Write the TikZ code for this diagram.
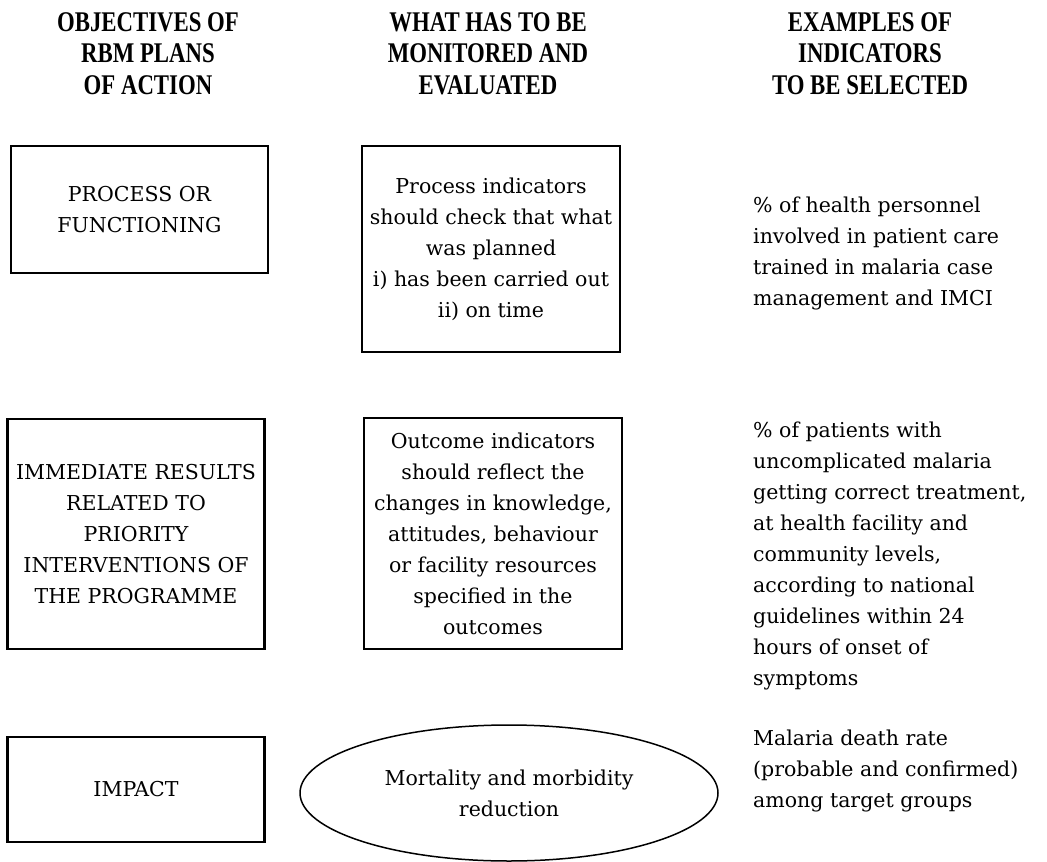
\documentclass[tikz,border=0pt]{standalone}
\usepackage{fontspec}
\setmainfont{DejaVu Serif}
\newfontfamily\headfont[FakeStretch=0.80]{Liberation Serif}
\usetikzlibrary{shapes.geometric}

% text sizes used throughout
\newcommand\bodysize{\fontsize{20.5}{31}\selectfont}
\newcommand\headsize{\headfont\bfseries\fontsize{28.5}{31.5}\selectfont}

\begin{document}
\begin{tikzpicture}[x=1pt,y=-1pt,
  header/.style={anchor=base, align=center, inner sep=0pt, font=\headsize},
  objbox/.style={draw, line width=2.2pt, rectangle, align=center,
    inner sep=0pt, font=\bodysize},
  oval/.style={draw, line width=1.5pt, ellipse, align=center,
    inner sep=0pt, font=\bodysize},
  indicator/.style={anchor=base west, align=left, inner sep=0pt, font=\bodysize}
]
\useasboundingbox (0,0) rectangle (1047,862);

% column headings (placed by the baseline of their last line)
\node[header] (h1) at (148,94) {OBJECTIVES OF\\RBM PLANS\\OF ACTION};
\node[header] (h2) at (488,94) {WHAT HAS TO BE\\MONITORED AND\\EVALUATED};
\node[header] (h3) at (870,94) {EXAMPLES OF\\INDICATORS\\TO BE SELECTED};

% row 1: process
\node[objbox, minimum width=257pt, minimum height=127pt] (obj1) at (139.5,209.5)
  {PROCESS OR\\FUNCTIONING};
\node[objbox, minimum width=258pt, minimum height=206pt] (mon1) at (491,249)
  {Process indicators\\should check that what\\was planned\\i) has been carried out\\ii) on time};
\node[indicator] (ind1) at (753,305)
  {\% of health personnel\\involved in patient care\\trained in malaria case\\management and IMCI};

% row 2: immediate results
\node[objbox, minimum width=257pt, minimum height=230pt] (obj2) at (136,534)
  {IMMEDIATE RESULTS\\RELATED TO\\PRIORITY\\INTERVENTIONS OF\\THE PROGRAMME};
\node[objbox, minimum width=258pt, minimum height=231pt] (mon2) at (493,533.5)
  {Outcome indicators\\should reflect the\\changes in knowledge,\\attitudes, behaviour\\or facility resources\\specified in the\\outcomes};
\node[indicator] (ind2) at (753,685)
  {\% of patients with\\uncomplicated malaria\\getting correct treatment,\\at health facility and\\community levels,\\according to national\\guidelines within 24\\hours of onset of\\symptoms};

% row 3: impact
\node[objbox, minimum width=257pt, minimum height=105pt] (obj3) at (136,789.5)
  {IMPACT};
\node[oval, minimum width=418pt, minimum height=136pt] (mon3) at (509,793)
  {Mortality and morbidity\\reduction};
\node[indicator] (ind3) at (753,807)
  {Malaria death rate\\(probable and confirmed)\\among target groups};
\end{tikzpicture}
\end{document}
